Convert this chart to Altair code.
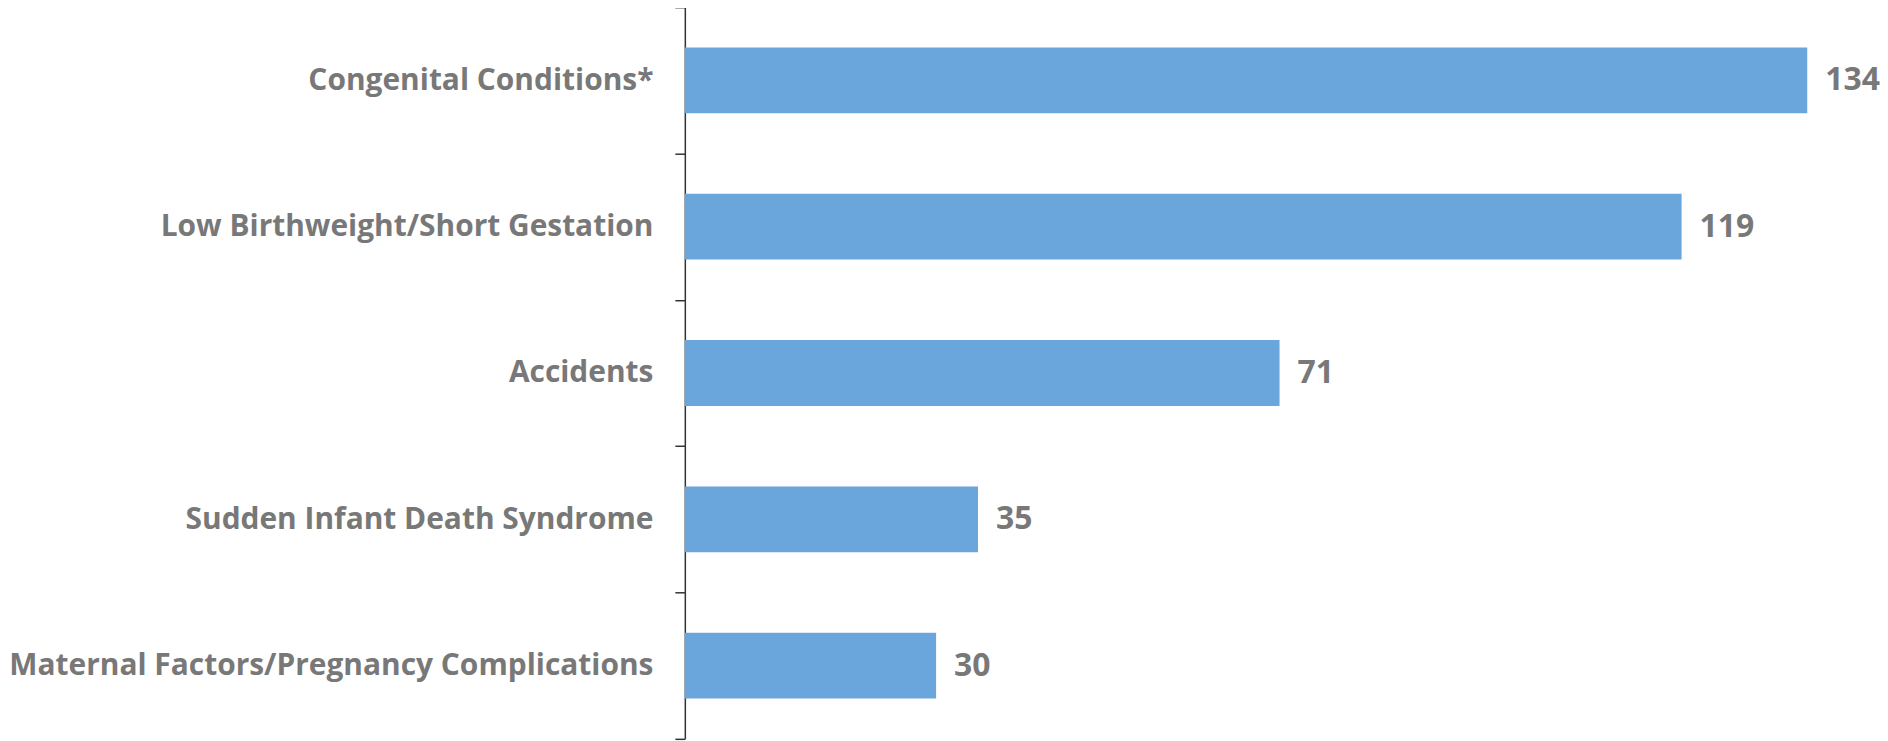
import altair as alt
import pandas as pd

causes = [
    "Congenital Conditions*",
    "Low Birthweight/Short Gestation",
    "Accidents",
    "Sudden Infant Death Syndrome",
    "Maternal Factors/Pregnancy Complications",
]
deaths = [134, 119, 71, 35, 30]

df = pd.DataFrame({"cause": causes, "deaths": deaths})

FONT = "Open Sans"
GRAY = "#787878"

y_enc = alt.Y(
    "cause:N",
    sort=causes,
    title=None,
    scale=alt.Scale(paddingInner=0, paddingOuter=0),
    axis=alt.Axis(
        tickBand="extent",
        labelFont=FONT,
        labelFontSize=30,
        labelFontWeight="bold",
        labelColor=GRAY,
        labelPadding=22,
        tickSize=10,
        domainColor="#333333",
        tickColor="#333333",
        domainWidth=1.5,
        tickWidth=1.5,
        labelLimit=0,
    ),
)
x_enc = alt.X(
    "deaths:Q",
    title=None,
    scale=alt.Scale(domain=[0, 134], nice=False),
    axis=None,
)

bars = alt.Chart(df).mark_bar(color="#6AA6DC", height={"band": 0.45}).encode(y=y_enc, x=x_enc)
text = alt.Chart(df).mark_text(
    align="left", baseline="middle", dx=18,
    font=FONT, fontSize=32, fontWeight="bold", color=GRAY,
).encode(y=y_enc, x=x_enc, text="deaths:Q")

chart = (bars + text).properties(
    width=1126, height=734,
    padding={"top": -17, "left": 0, "right": 0, "bottom": 0},
).configure_view(stroke=None)

chart.save("out.html", embed_options={"renderer": "svg", "actions": False})
